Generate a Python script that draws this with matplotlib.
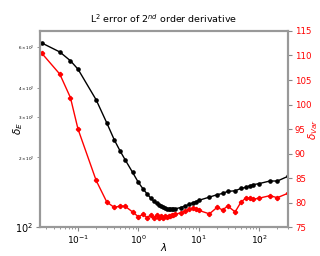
import matplotlib
matplotlib.use("Agg")
import matplotlib.pyplot as plt
from matplotlib.ticker import FixedLocator, FixedFormatter

lam = [0.025, 0.05, 0.075, 0.1, 0.2, 0.3, 0.4, 0.5, 0.6, 0.8,
       1.0, 1.2, 1.4, 1.6, 1.8, 2.0, 2.2, 2.4, 2.6, 2.8, 3.0, 3.2, 3.4, 3.6, 3.8, 4.0,
       5, 6, 7, 8, 9, 10, 15, 20, 25, 30, 40, 50, 60, 70, 80, 100, 150, 200, 300]

delta_E = [626, 572, 524, 482, 355, 282, 238, 213, 196, 172.6,
           156, 146, 139, 133.5, 129.5, 126.5, 124.5, 123, 122, 121, 120.2, 119.7, 119.4, 119.3, 119.5, 119.8,
           121.5, 123.5, 125.5, 127.5, 129, 130.5, 134.8, 138, 139.9, 142.7, 143.5, 147, 148.5, 151, 152.6,
           154.2, 158.2, 158.2, 165.8]

delta_var = [110.5, 106.2, 101.4, 95.0, 84.5, 80.1, 79.0, 79.3, 79.25, 78.1,
             77.1, 77.6, 76.9, 77.5, 76.8, 77.4, 76.9, 77.3, 76.9, 77.2, 77.0, 77.2, 77.3, 77.4, 77.5, 77.6,
             77.9, 78.3, 78.6, 78.8, 78.7, 78.4, 77.7, 79.0, 78.5, 79.3, 78.1, 80.1, 80.9, 80.9, 80.7,
             80.9, 81.4, 81.0, 81.9]

left_minor_ticks = [200, 300, 400, 600]
left_minor_labels = [r"$2\times10^{2}$", r"$3\times10^{2}$", r"$4\times10^{2}$", r"$6\times10^{2}$"]
right_ticks = [75, 80, 85, 90, 95, 100, 105, 110, 115]

fig = plt.figure(figsize=(3.2, 2.56), dpi=100)
ax = fig.add_axes([0.125, 0.113, 0.775, 0.766])
ax.set_xscale("log")
ax.set_yscale("log")
ax.plot(lam, delta_E, color="black", marker="o", markersize=2.3, linewidth=1)
ax.set_xlim(0.0235, 300)
ax.set_ylim(100, 705)

ax.yaxis.set_major_locator(FixedLocator([100]))
ax.yaxis.set_major_formatter(FixedFormatter([r"$10^{2}$"]))
ax.yaxis.set_minor_locator(FixedLocator(left_minor_ticks))
ax.yaxis.set_minor_formatter(FixedFormatter(left_minor_labels))
ax.tick_params(axis="y", which="major", labelsize=7, length=3, color="#888888", pad=2)
ax.tick_params(axis="y", which="minor", labelsize=3, length=2, color="#888888", pad=2)
ax.tick_params(axis="x", which="major", labelsize=6.5, length=3, color="#888888", pad=2)
ax.tick_params(axis="x", which="minor", length=1.5, color="#888888")
ax.set_xlabel(r"$\lambda$", fontsize=7.5)
ax.xaxis.set_label_coords(0.5, -0.07)
ax.set_ylabel(r"$\delta_E$", fontsize=7.5)
ax.yaxis.set_label_coords(-0.06, 0.5)
ax.set_title(r"L$^2$ error of 2$^{nd}$ order derivative", fontsize=6.8, pad=6)

for s in ax.spines.values():
    s.set_color("#999999")
    s.set_linewidth(1.5)

ax2 = ax.twinx()
ax2.plot(lam, delta_var, color="red", marker="P", markersize=2.8, linewidth=1)
ax2.set_ylim(75, 115)
ax2.set_yticks(right_ticks)
ax2.tick_params(axis="y", labelsize=6.2, labelcolor="red", length=3, color="#888888", pad=2)
ax2.set_ylabel(r"$\delta_{Var}$", fontsize=7.5, color="red")
ax2.yaxis.set_label_coords(1.075, 0.5)
ax2.axhline(115, color="red", linestyle=(0, (1.5, 1.5)), linewidth=1.2, alpha=0.6, clip_on=False)
for s in ax2.spines.values():
    s.set_color("#999999")
    s.set_linewidth(1.5)

fig.savefig("out.png", dpi=100)
